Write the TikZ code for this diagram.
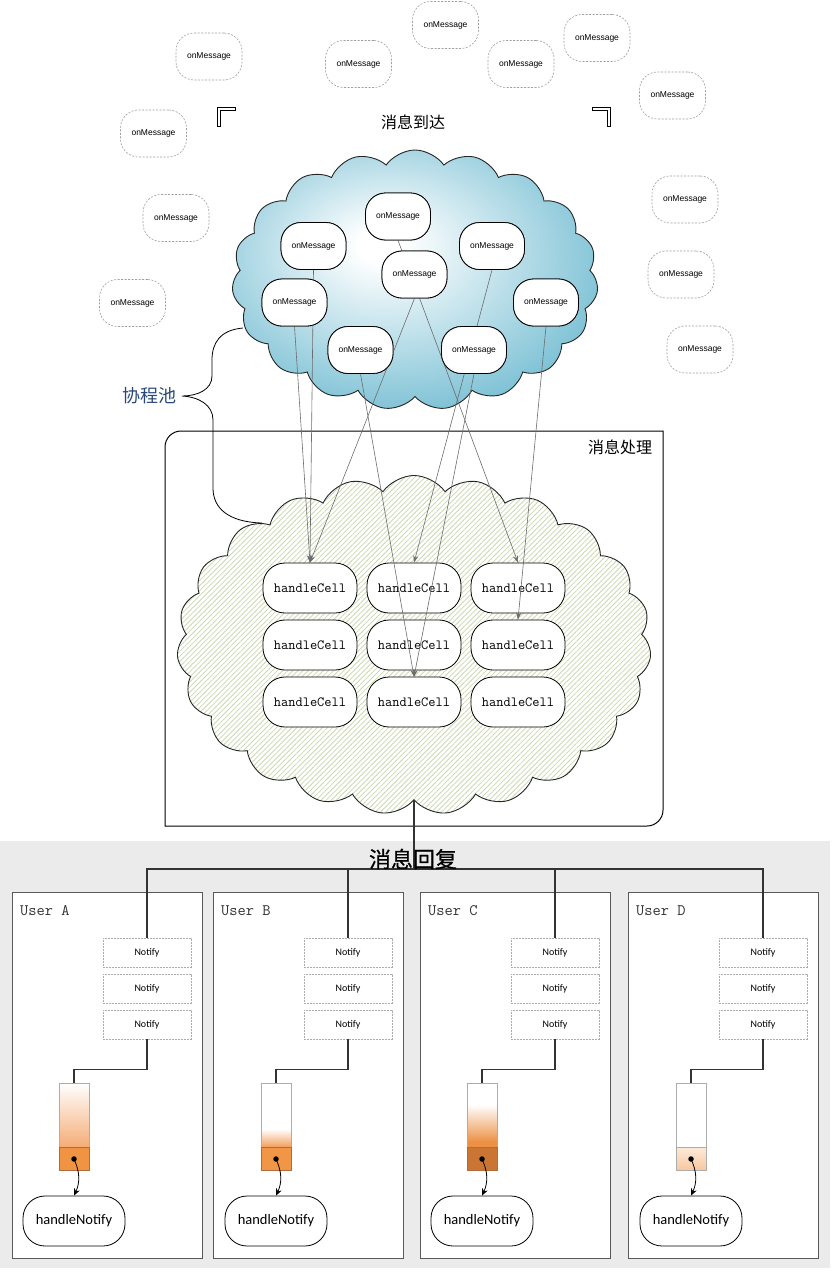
\documentclass[tikz,border=0pt]{standalone}
\usepackage{fontspec}
\newfontfamily\cjk{Noto Sans CJK SC}
\newfontfamily\cjkb[FakeBold=0.6]{Noto Sans CJK SC}
\newfontfamily\carl{Carlito}
\newfontfamily\lib{Liberation Sans}
\usetikzlibrary{shapes.symbols,shapes.misc,patterns.meta,arrows.meta}
\definecolor{cloudblue}{RGB}{118,190,211}
\definecolor{hatch}{RGB}{205,215,175}
\definecolor{bgray}{RGB}{235,235,235}
\definecolor{pA}{RGB}{245,172,118}
\definecolor{pB}{RGB}{242,158,92}
\definecolor{pC}{RGB}{236,144,68}
\definecolor{oA}{RGB}{240,147,66}
\definecolor{oB}{RGB}{241,150,70}
\definecolor{oC}{RGB}{202,117,52}
\definecolor{pD1}{RGB}{252,234,218}
\definecolor{pD2}{RGB}{248,200,160}
\definecolor{sepO}{RGB}{176,108,58}
\definecolor{poolblue}{RGB}{40,72,120}
\pgfdeclareradialshading{skyshade}{\pgfpoint{-5bp}{7bp}}{color(0bp)=(white); color(3bp)=(white); color(31bp)=(cloudblue); color(60bp)=(cloudblue)}
\pgfdeclareverticalshading{barAtop}{100bp}{color(0bp)=(pA); color(25bp)=(pA); color(75bp)=(white); color(100bp)=(white)}
\pgfdeclareverticalshading{barBtop}{100bp}{color(0bp)=(pB); color(25bp)=(pB); color(39bp)=(white); color(100bp)=(white)}
\pgfdeclareverticalshading{barCtop}{100bp}{color(0bp)=(pC); color(29bp)=(pC); color(58bp)=(white); color(100bp)=(white)}
\pgfdeclareverticalshading{barDlow}{100bp}{color(0bp)=(pD2); color(25bp)=(pD2); color(75bp)=(pD1); color(100bp)=(pD1)}
\tikzset{
  outmsg/.style={draw=gray!75, dash pattern=on 2pt off 1.5pt, line width=0.6pt, fill=white, rounded corners=18pt, minimum width=66pt, minimum height=47pt, inner sep=0pt, font=\lib\fontsize{8.5}{10}\selectfont},
  inmsg/.style={draw=black, line width=0.8pt, fill=white, rounded corners=20pt, minimum width=65pt, minimum height=47pt, inner sep=0pt, font=\lib\fontsize{8.5}{10}\selectfont},
  cell/.style={draw=black, line width=0.8pt, fill=white, rounded corners=22pt, minimum width=94pt, minimum height=50pt, inner sep=0pt, font=\ttfamily\fontsize{14}{16}\selectfont},
  msgarrow/.style={draw=gray!85!black, line width=0.6pt, -{Stealth[length=7pt,width=5pt]}},
  userbox/.style={draw=black!65, line width=1.4pt, fill=white, minimum width=190pt, minimum height=366pt, inner sep=0pt},
  ulabel/.style={font=\ttfamily\fontsize{16}{18}\selectfont, text=black!80, inner sep=0pt},
  notify/.style={draw=gray!65, dash pattern=on 2pt off 1pt, line width=0.6pt, fill=white, minimum width=88pt, minimum height=29pt, inner sep=0pt, font=\carl\fontsize{10}{12}\selectfont},
  hnotify/.style={draw=black, line width=0.8pt, fill=white, rounded corners=22pt, minimum width=102pt, minimum height=50pt, inner sep=0pt, font=\carl\fontsize{14.5}{16}\selectfont},
  link/.style={draw=black!80, line width=1.1pt},
  bartop/.style={draw=gray!65, line width=0.6pt, minimum width=30pt, minimum height=64pt, inner sep=0pt},
  barlow/.style={line width=0.6pt, minimum width=30pt, minimum height=23pt, inner sep=0pt},
  dot/.style={circle, fill=black, inner sep=0pt, minimum size=5.5pt},
  darrow/.style={draw=black, line width=0.8pt, -{Stealth[length=7pt,width=6pt]}},
  cjktext/.style={font=\cjk\fontsize{#1}{#1}\selectfont, inner sep=0pt},
  brk/.style={draw=black, line width=0.7pt, fill=white}
}
\begin{document}
\begin{tikzpicture}[x=1pt,y=-1pt]
\useasboundingbox (0,0) rectangle (834,1274);
% bottom background
\fill[bgray] (0,841) rectangle (830,1268);
% processing box
\draw[line width=1pt] (165,826) -- (165,447) .. controls (165,438.2) and (172.2,431) .. (181,431) -- (663,431) -- (663,810) .. controls (663,818.8) and (655.8,826) .. (647,826) -- cycle;
\node[cjktext=16] (proclbl) at (620,447) {消息处理};
% clouds
\node[cloud, cloud puffs=19, cloud puff arc=110, cloud ignores aspect, minimum width=366pt, minimum height=260pt, draw=black!85, line width=0.9pt, shade, shading=skyshade] (pool) at (415,280) {};
\node[cloud, cloud puffs=23, cloud puff arc=110, cloud ignores aspect, minimum width=474pt, minimum height=339pt, draw=black!85, line width=0.9pt, pattern={Lines[angle=45,distance=3.6pt,line width=0.8pt]}, pattern color=hatch] (hc) at (414,645) {};
% brace
\draw[line width=0.8pt] (243,328) .. controls (220,330) and (212,343) .. (212,360) -- (212,376) .. controls (212,390) and (197,396) .. (182,396) .. controls (199,397) and (213,405) .. (213,420) -- (213,488) .. controls (213,508) and (228,522) .. (262,523);
\node[cjktext=18, text=poolblue] (poollbl) at (149,396) {协程池};
% handleCell nodes
\node[cell] (c11) at (310,588) {handleCell};
\node[cell] (c21) at (414,588) {handleCell};
\node[cell] (c31) at (518,588) {handleCell};
\node[cell] (c12) at (310,645) {handleCell};
\node[cell] (c22) at (414,645) {handleCell};
\node[cell] (c32) at (518,645) {handleCell};
\node[cell] (c13) at (310,702) {handleCell};
\node[cell] (c23) at (414,702) {handleCell};
\node[cell] (c33) at (518,702) {handleCell};
% inner onMessage nodes
\node[inmsg] (m1) at (313.5,246) {onMessage};
\node[inmsg] (m2) at (398,216.5) {onMessage};
\node[inmsg] (m3) at (414.5,274.5) {onMessage};
\node[inmsg] (m4) at (492,246) {onMessage};
\node[inmsg] (m5) at (294.5,302.5) {onMessage};
\node[inmsg] (m6) at (546,302.5) {onMessage};
\node[inmsg] (m7) at (360.5,350) {onMessage};
\node[inmsg] (m8) at (474,350) {onMessage};
% arrows
\draw[msgarrow] (m5.south) -- (c11.north);
\draw[msgarrow] (m1.south) -- (c11.north);
\draw[msgarrow] (m3.south) -- (c11.north);
\draw[msgarrow] (m4.south) -- (c21.north);
\draw[msgarrow] (m2.south) -- (c31.north);
\draw[msgarrow] (m6.south) -- (c32.north);
\draw[msgarrow] (m7.south) -- (c23.north);
\draw[msgarrow] (m8.south) -- (c23.north);
% redraw inner nodes over arrows
\node[inmsg] at (m1) {onMessage};
\node[inmsg] at (m2) {onMessage};
\node[inmsg] at (m3) {onMessage};
\node[inmsg] at (m4) {onMessage};
\node[inmsg] at (m5) {onMessage};
\node[inmsg] at (m6) {onMessage};
\node[inmsg] at (m7) {onMessage};
\node[inmsg] at (m8) {onMessage};
% outer onMessage
\node[outmsg] (o1) at (209,56.5) {onMessage};
\node[outmsg] (o2) at (358.5,64) {onMessage};
\node[outmsg] (o3) at (445.5,25) {onMessage};
\node[outmsg] (o4) at (521,64) {onMessage};
\node[outmsg] (o5) at (597,38) {onMessage};
\node[outmsg] (o6) at (672.5,95.5) {onMessage};
\node[outmsg] (o7) at (153.5,133.5) {onMessage};
\node[outmsg] (o8) at (176,218) {onMessage};
\node[outmsg] (o9) at (132.5,303) {onMessage};
\node[outmsg] (o10) at (685,199.5) {onMessage};
\node[outmsg] (o11) at (681,274.5) {onMessage};
\node[outmsg] (o12) at (700,349.5) {onMessage};
% title
\node[cjktext=16] (arrive) at (413,122) {消息到达};
\draw[brk] (217,126) -- (217,107.5) -- (235,107.5) -- (235,110.5) -- (220,110.5) -- (220,126) -- cycle;
\draw[brk] (592,107.5) -- (610,107.5) -- (610,126) -- (607,126) -- (607,110.5) -- (592,110.5) -- cycle;
% users
\foreach \u/\bx/\nx/\hx in {A/12/147/74, B/213/348/276, C/420/555/482, D/628/763/691} {
  \node[userbox, anchor=north west] (u\u) at (\bx,892) {};
  \node[ulabel, anchor=base west] (ul\u) at (\bx+8,915) {User \u};
  \node[notify] (n\u1) at (\nx,952.5) {Notify};
  \node[notify] (n\u2) at (\nx,988.5) {Notify};
  \node[notify] (n\u3) at (\nx,1024.5) {Notify};
  \node[hnotify] (h\u) at (\hx,1221) {handleNotify};
}
% bars
\node[bartop, shade, shading=barAtop] (btA) at (74,1115) {};
\node[barlow, fill=oA, draw=sepO] (blA) at (74,1158.5) {};
\node[bartop, shade, shading=barBtop] (btB) at (276,1115) {};
\node[barlow, fill=oB, draw=sepO] (blB) at (276,1158.5) {};
\node[bartop, shade, shading=barCtop] (btC) at (482,1115) {};
\node[barlow, fill=oC, draw=sepO] (blC) at (482,1158.5) {};
\node[bartop, fill=white] (btD) at (691,1115) {};
\node[barlow, shade, shading=barDlow, draw=gray!65] (blD) at (691,1158.5) {};
% links
\coordinate (hub) at (hc.south |- 0,869);
\draw[link] (hc.south) -- (hub);
\foreach \u/\hx in {A/74, B/276, C/482, D/691} {
  \draw[link] (hub) -| (n\u1.north);
  \draw[link] (n\u3.south) -- ++(0,30) -| (bt\u.north);
  \node[dot] (d\u) at (\hx,1159) {};
  \draw[darrow] (d\u.center) to[bend left=25] (h\u.north);
}
\node[font=\cjkb\fontsize{22}{22}\selectfont, inner sep=0pt] (reply) at (413,859) {消息回复};
\end{tikzpicture}
\end{document}
